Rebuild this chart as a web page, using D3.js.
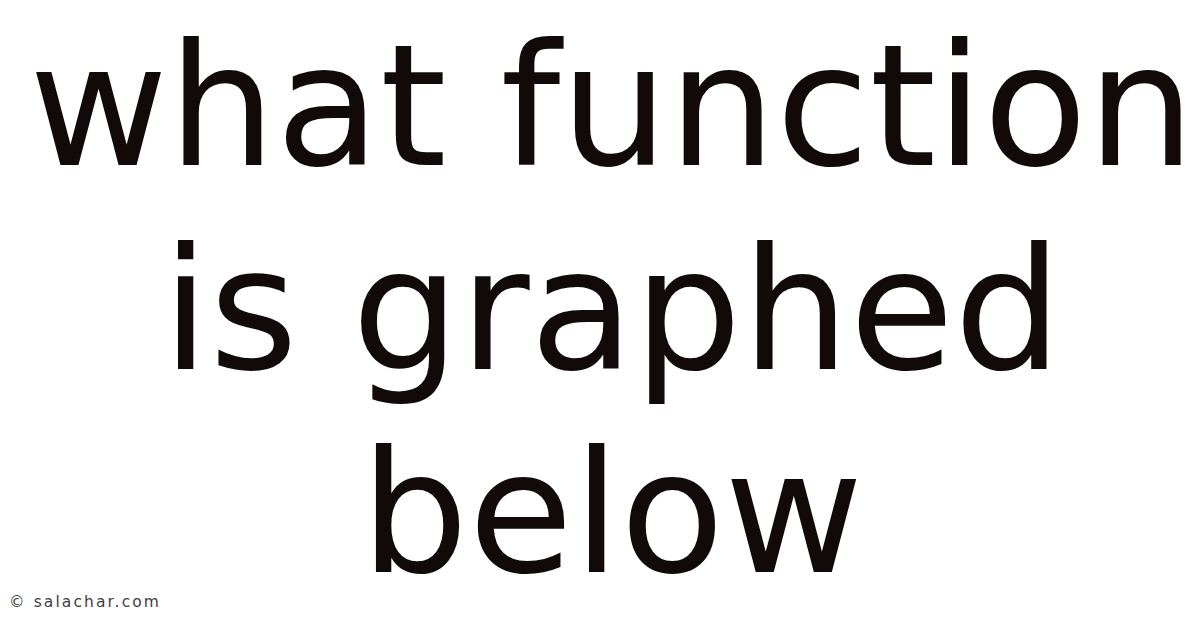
<!DOCTYPE html>
<html><head><meta charset="utf-8">
<script src="https://cdn.jsdelivr.net/npm/d3@7"></script>
<style>html,body{margin:0;padding:0;background:#fff;overflow:hidden}</style>
</head><body>
<svg id="c" width="1200" height="628"></svg>
<script>
const lines = ["what function", "is graphed", "below"];
const watermark = ["© salachar.com"];

const svg = d3.select("#c");
svg.append("rect").attr("width",1200).attr("height",628).attr("fill","#ffffff");
const y = d3.scalePoint().domain(d3.range(lines.length)).range([165, 572]);
svg.selectAll("text.line").data(lines).join("text")
  .attr("class","line")
  .attr("x",612).attr("y",(d,i)=>y(i))
  .attr("text-anchor","middle")
  .attr("font-family","DejaVu Sans")
  .attr("font-size",170)
  .attr("fill","#120909")
  .text(d=>d);
svg.selectAll("text.wm").data(watermark).join("text")
  .attr("class","wm")
  .attr("x",9).attr("y",607)
  .attr("font-family","DejaVu Sans")
  .attr("font-size",15.5)
  .attr("letter-spacing",2.1)
  .attr("fill","#3f3f3f")
  .text(d=>d);
</script>
</body></html>
